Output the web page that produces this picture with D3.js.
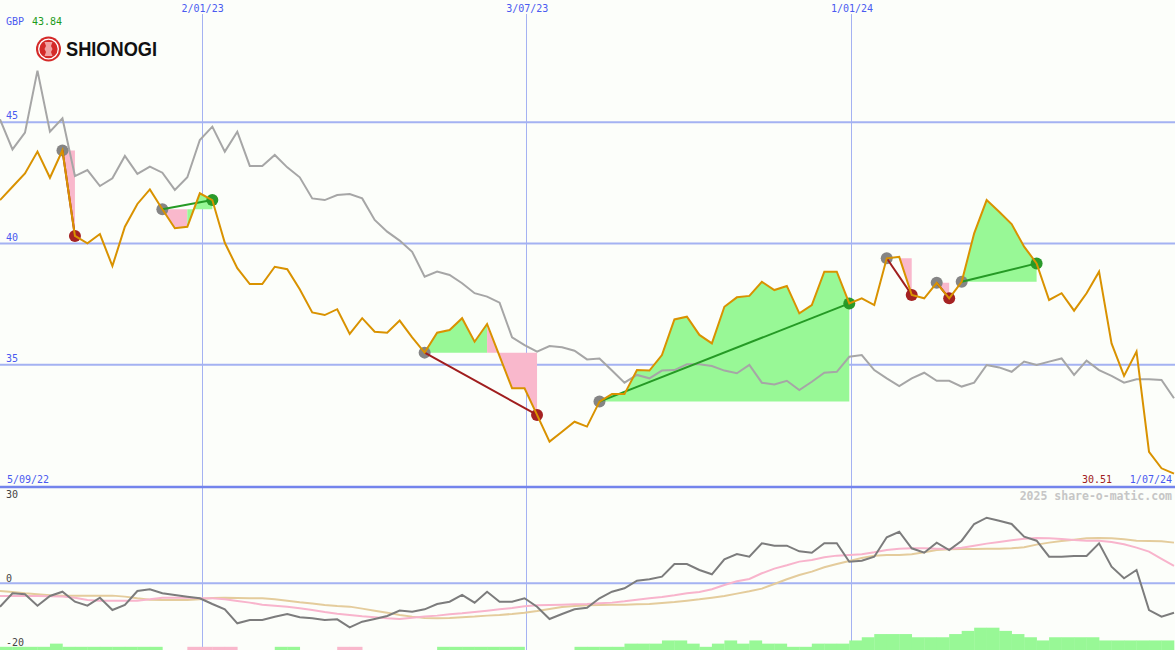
<!DOCTYPE html>
<html><head><meta charset="utf-8">
<script src="https://cdn.jsdelivr.net/npm/d3@7"></script>
<style>body{margin:0;background:#fcfefa;} svg{display:block}</style>
</head><body><svg id="c" width="1175" height="650"></svg>
<script>
// ---- data ----
const startDate = "11/09/22";           // first weekly close
const price = [41.79,42.34,42.89,43.79,42.71,43.84,40.31,40.01,40.39,39.07,
 40.69,41.63,42.23,41.41,40.63,40.69,42.07,41.79,40.03,38.98,
 38.33,38.33,39.04,38.94,38.11,37.16,37.05,37.29,36.27,36.92,
 36.36,36.32,36.82,36.13,35.50,36.32,36.43,36.92,35.95,36.68,
 35.36,34.03,34.03,32.93,31.83,32.24,32.65,32.45,33.48,33.79,
 33.79,34.78,34.76,35.40,36.87,36.98,36.23,35.88,37.39,37.78,
 37.84,38.42,38.08,38.25,37.12,37.46,38.84,38.84,37.53,37.74,
 37.46,39.39,39.45,37.88,37.74,38.38,37.74,38.42,40.42,41.79,
 41.31,40.80,39.87,39.18,37.67,37.95,37.23,37.95,38.84,35.88,
 34.54,35.54,31.41,30.73,30.51];
const compare = [45.12,43.88,44.57,47.13,44.61,45.16,42.78,43.03,42.37,42.69,
 43.61,42.87,43.17,42.92,42.21,42.73,44.27,44.82,43.79,44.61,
 43.20,43.20,43.65,43.14,42.73,41.86,41.79,42.00,42.04,41.86,
 40.97,40.49,40.12,39.66,38.63,38.84,38.70,38.36,37.95,37.81,
 37.56,36.13,35.81,35.54,35.77,35.72,35.58,35.22,35.26,34.76,
 34.26,34.58,34.44,34.76,34.78,35.02,35.02,34.95,34.76,34.65,
 34.99,34.26,34.19,34.34,33.96,34.30,34.67,34.71,35.33,35.40,
 34.78,34.44,34.12,34.44,34.67,34.34,34.34,34.10,34.26,34.99,
 34.89,34.71,35.13,34.99,35.13,35.26,34.58,35.17,34.78,34.54,
 34.26,34.40,34.40,34.37,33.62];
const oscMain = [-7.29,-3.12,-3.43,-6.98,-3.96,-2.62,-5.73,-6.98,-4.49,-8.32,
 -6.76,-2.40,-1.87,-3.12,-3.64,-4.17,-4.67,-6.45,-8.10,-12.46,
 -11.43,-11.43,-10.40,-9.56,-10.59,-10.90,-11.43,-11.21,-13.71,-11.96,
 -11.12,-10.19,-8.47,-8.85,-8.10,-6.45,-5.73,-3.64,-6.04,-2.62,
 -5.73,-5.73,-4.67,-7.29,-11.12,-9.56,-8.10,-7.60,-4.67,-2.62,
 -1.56,0.81,1.25,2.06,6.01,6.01,4.14,2.80,7.48,9.13,
 8.29,12.46,11.71,11.71,9.97,9.53,12.46,12.46,6.73,7.04,
 8.29,14.33,16.07,10.90,9.53,12.65,10.37,13.27,18.47,20.44,
 19.50,18.47,14.52,13.27,8.29,8.29,8.50,8.50,12.46,5.17,
 1.56,4.14,-8.32,-10.40,-9.16];
const oscPink = [-3.95,-3.95,-3.95,-3.95,-4.05,-4.15,-4.47,-5.19,-5.40,-5.40,
 -5.40,-5.40,-4.98,-4.47,-4.47,-4.47,-4.67,-4.67,-4.98,-5.50,
 -6.02,-6.65,-6.96,-7.27,-7.79,-8.31,-8.93,-9.45,-9.87,-10.28,
 -10.59,-10.90,-11.11,-10.70,-10.38,-10.07,-9.66,-9.35,-8.93,-8.52,
 -8.10,-7.68,-7.17,-6.85,-6.75,-6.65,-6.54,-6.44,-6.23,-6.02,
 -5.61,-5.09,-4.67,-4.26,-3.74,-3.12,-2.70,-1.87,-0.52,0.62,
 1.35,3.12,4.57,5.61,6.75,7.27,8.10,8.62,8.83,9.03,
 9.66,10.38,10.80,10.90,10.90,10.80,10.70,11.11,11.73,12.36,
 12.88,13.40,13.91,14.12,14.02,13.81,13.50,13.29,13.29,12.88,
 12.15,11.11,9.87,7.58,5.40];
const oscTan = [-2.39,-2.70,-3.12,-3.43,-3.74,-3.84,-3.84,-3.84,-3.84,-3.84,
 -4.15,-4.67,-5.09,-5.19,-5.19,-5.19,-4.98,-4.57,-4.47,-4.57,
 -4.67,-4.67,-4.98,-5.40,-5.92,-6.33,-6.75,-7.06,-7.27,-7.89,
 -8.52,-9.14,-9.87,-10.38,-10.80,-10.90,-10.80,-10.59,-10.38,-10.07,
 -9.87,-9.55,-9.14,-8.62,-8.00,-7.37,-7.06,-6.85,-6.75,-6.65,
 -6.65,-6.54,-6.44,-6.13,-5.82,-5.40,-4.98,-4.47,-3.95,-3.22,
 -2.49,-1.66,-0.21,1.25,2.60,3.63,4.98,6.02,6.96,7.89,
 8.62,8.83,8.83,9.03,9.66,10.38,10.59,10.70,10.70,10.80,
 10.80,10.90,11.21,12.05,12.67,13.19,13.60,14.02,14.12,14.02,
 13.71,13.29,13.19,13.08,12.67];
const hist = [1,1,1,1,2,1,1,1,1,1,1,1,1,0,0,-1,-1,-1,-1,0,
 0,0,1,1,0,0,0,-1,-1,0,0,0,0,0,0,1,1,1,1,1,
 1,1,0,0,0,0,1,1,1,1,2,2,2,3,3,2,1,2,3,2,
 3,2,2,1,1,2,2,2,3,4,5,5,5,4,4,4,5,6,7,7,
 6,5,4,3,4,4,4,4,3,3,3,3,3,3];
const tradeEntry = [5,13,34,48,71,75,77];
const tradeExit  = [6,17,43,68,73,76,83];
const gridDates = ["2/01/23","3/07/23","1/01/24"];
const priceTicks = [45,40,35];
const oscTicks = [30,0,-20];
const oscGrid = [0];
const firstLabel = "5/09/22", lastLabel = "1/07/24";
const currency = "GBP", highLabel = "43.84", lastPrice = "30.51";

// ---- setup ----
const parse = d3.timeParse("%d/%m/%y");
const d0 = parse(startDate);
const dates = price.map((_, i) => d3.timeDay.offset(d0, 7 * i));
const svg = d3.select("#c");
const x = d3.scaleTime().domain([dates[0], dates[dates.length - 1]]).range([0, 1174]);
const y = d3.scaleLinear().domain([30, 50]).range([486, 1]);
const yo = d3.scaleLinear().domain([-20, 30]).range([647.5, 487]);
const yh = d3.scaleLinear().domain([0, 7]).range([650, 627.7]);
const mono = "'DejaVu Sans Mono', monospace";
const BLUE = "#4a5af0", GRID = "#a4b2f2";

svg.append("rect").attr("width", 1175).attr("height", 650).attr("fill", "#fcfefa");

// vertical grid
svg.selectAll(".vg").data(gridDates.map(parse)).enter().append("line")
  .attr("x1", d => Math.round(x(d)) + 0.5).attr("x2", d => Math.round(x(d)) + 0.5)
  .attr("y1", 14).attr("y2", 650).attr("stroke", GRID).attr("stroke-width", 1);
// horizontal grid
svg.selectAll(".hg").data(priceTicks).enter().append("line")
  .attr("x1", 0).attr("x2", 1175).attr("y1", d => y(d)).attr("y2", d => y(d))
  .attr("stroke", GRID).attr("stroke-width", 2);
svg.selectAll(".og").data(oscGrid).enter().append("line")
  .attr("x1", 0).attr("x2", 1175).attr("y1", d => yo(d)).attr("y2", d => yo(d))
  .attr("stroke", GRID).attr("stroke-width", 2);
svg.append("line").attr("x1", 0).attr("x2", 1175).attr("y1", 487).attr("y2", 487)
  .attr("stroke", "#7384ec").attr("stroke-width", 2.5);

// trade fills
const fillG = svg.append("g");
tradeEntry.forEach((e, t) => {
  const ex = tradeExit[t], level = price[e];
  let runs = [];
  for (let i = e; i < ex; i++) {
    const col = price[i + 1] > level ? "#98f896" : "#f9b8cc";
    if (runs.length && runs[runs.length - 1].col === col) runs[runs.length - 1].end = i + 1;
    else runs.push({col, start: i, end: i + 1});
  }
  runs.forEach(r => {
    const idx = d3.range(r.start, r.end + 1);
    fillG.append("path")
      .attr("d", d3.area().x(i => x(dates[i])).y0(y(level)).y1(i => y(price[i]))(idx))
      .attr("fill", r.col);
  });
});

// comparison line
svg.append("path").datum(compare)
  .attr("d", d3.line().x((d, i) => x(dates[i])).y(d => y(d)))
  .attr("fill", "none").attr("stroke", "#a6a6a6").attr("stroke-width", 2);

// oscillator histogram
svg.selectAll(".hb").data(hist).enter().append("rect")
  .attr("x", (d, i) => x(dates[i])).attr("width", (d, i) => x(dates[i + 1]) - x(dates[i]) + 0.3)
  .attr("y", d => yh(Math.abs(d))).attr("height", d => 650 - yh(Math.abs(d)))
  .attr("fill", d => d >= 0 ? "#98f896" : "#f9b8cc");
// oscillator lines
const oline = d3.line().x((d, i) => x(dates[i])).y(d => yo(d));
svg.append("path").datum(oscTan).attr("d", oline).attr("fill", "none").attr("stroke", "#e4cc9c").attr("stroke-width", 2);
svg.append("path").datum(oscPink).attr("d", oline).attr("fill", "none").attr("stroke", "#f8b4cc").attr("stroke-width", 2);
svg.append("path").datum(oscMain).attr("d", oline).attr("fill", "none").attr("stroke", "#7c7c7c").attr("stroke-width", 2);

// trade markers and lines
tradeEntry.forEach((e, t) => {
  const ex = tradeExit[t];
  const win = price[ex] > price[e];
  svg.append("circle").attr("cx", x(dates[e])).attr("cy", y(price[e])).attr("r", 6).attr("fill", "#858585");
  svg.append("circle").attr("cx", x(dates[ex])).attr("cy", y(price[ex])).attr("r", 6)
    .attr("fill", win ? "#2a9a2a" : "#a52222");
  svg.append("line").attr("x1", x(dates[e])).attr("y1", y(price[e]))
    .attr("x2", x(dates[ex])).attr("y2", y(price[ex]))
    .attr("stroke", win ? "#259a25" : "#a01e1e").attr("stroke-width", 2);
});

// price line
svg.append("path").datum(price)
  .attr("d", d3.line().x((d, i) => x(dates[i])).y(d => y(d)))
  .attr("fill", "none").attr("stroke", "#d99200").attr("stroke-width", 2);

// labels
const T = (tx, ty, txt, col, anchor) => svg.append("text").attr("x", tx).attr("y", ty)
  .attr("font-family", mono).attr("font-size", 10).attr("fill", col)
  .attr("text-anchor", anchor || "start").text(txt);
gridDates.forEach(s => T(x(parse(s)) + 1, 12, s, BLUE, "middle"));
priceTicks.forEach(v => T(6, y(v) - 3, String(v), BLUE));
T(6, 25, currency, BLUE);
T(32, 25, highLabel, "#1c9c1c");
T(7, 483, firstLabel, BLUE);
T(1112, 483, lastPrice, "#a02020", "end");
T(1172, 483, lastLabel, BLUE, "end");
oscTicks.forEach(v => T(6, yo(v) + (v === 30 ? 11 : v === 0 ? -1 : -1.5), String(v), "#444"));
svg.append("text").attr("x", 1172).attr("y", 500).attr("text-anchor", "end")
  .attr("font-family", mono).attr("font-size", 11.5).attr("font-weight", "bold")
  .attr("fill", "#c6c6c6").text("2025 share-o-matic.com");

// logo
const lg = svg.append("g").attr("transform", "translate(48.5,49)");
lg.append("circle").attr("r", 12.5).attr("fill", "#d42a28");
lg.append("circle").attr("r", 9.8).attr("fill", "none").attr("stroke", "#fff").attr("stroke-width", 1.3);
lg.append("path").attr("d", "M-4,-7 L4,-7 L2.5,-3 L4,0 L2.5,3 L4,7 L-4,7 L-2.5,3 L-4,0 L-2.5,-3 Z")
  .attr("fill", "#f6c0c0").attr("opacity", 0.8);
svg.append("text").attr("x", 66).attr("y", 55.5).attr("font-family", "'Liberation Sans', Arial, sans-serif")
  .attr("font-weight", "bold").attr("font-size", 20.5).attr("textLength", 91).attr("lengthAdjust", "spacingAndGlyphs")
  .attr("fill", "#111").text("SHIONOGI");
</script></body></html>
